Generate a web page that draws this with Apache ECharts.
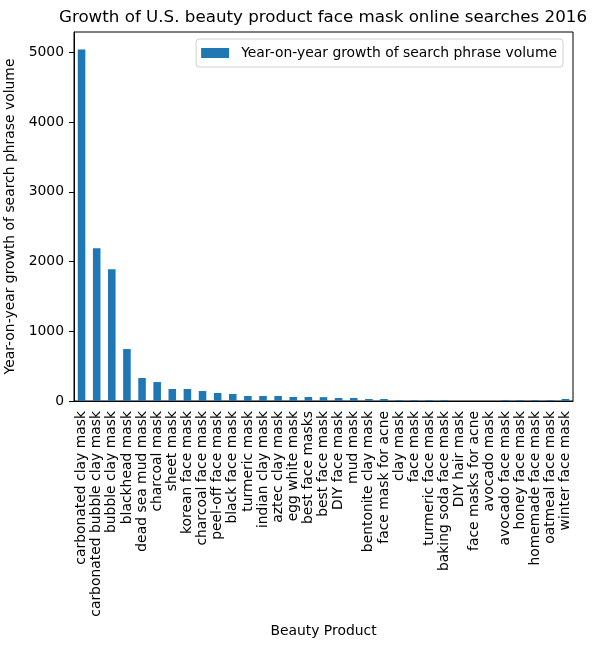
<!DOCTYPE html>
<html>
<head>
<meta charset="utf-8">
<script src="https://cdn.jsdelivr.net/npm/echarts@6/dist/echarts.min.js"></script>
<style>
  html, body { margin: 0; padding: 0; background: #fff; }
  #main { width: 595px; height: 647px; }
</style>
</head>
<body>
<div id="main"></div>
<script>
var products = [
    'carbonated clay mask', 'carbonated bubble clay mask', 'bubble clay mask',
    'blackhead mask', 'dead sea mud mask', 'charcoal mask', 'sheet mask',
    'korean face mask', 'charcoal face mask', 'peel-off face mask',
    'black face mask', 'turmeric mask', 'indian clay mask', 'aztec clay mask',
    'egg white mask', 'best face masks', 'best face mask', 'DIY face mask',
    'mud mask', 'bentonite clay mask', 'face mask for acne', 'clay mask',
    'face mask', 'turmeric face mask', 'baking soda face mask', 'DIY hair mask',
    'face masks for acne', 'avocado mask', 'avocado face mask',
    'honey face mask', 'homemade face mask', 'oatmeal face mask',
    'winter face mask'
];
var growth = [
    5040, 2190, 1890, 745, 330, 272, 172, 172, 143, 115,
    100, 72, 72, 72, 57, 57, 55, 43, 43, 29, 29, 14,
    14, 14, 14, 0, 0, 0, 14, 14, 14, 14, 29
];
var yTicks = [0, 1000, 2000, 3000, 4000, 5000];

var font = 'DejaVu Sans';
var chart = echarts.init(document.getElementById('main'));
var option = {
    backgroundColor: '#fff',
    animation: false,
    title: {
        text: 'Growth of U.S. beauty product face mask online searches 2016',
        left: 323,
        top: 9,
        padding: 0,
        textAlign: 'center',
        textStyle: { fontFamily: font, fontSize: 16.7, fontWeight: 'normal', color: '#000' }
    },
    legend: {
        right: 32,
        top: 39,
        orient: 'vertical',
        icon: 'rect',
        itemWidth: 28,
        itemHeight: 10,
        padding: [7, 6, 7, 5],
        borderColor: '#d0d0d0',
        borderWidth: 1,
        borderRadius: 3,
        textStyle: { fontFamily: font, fontSize: 13.9, color: '#000', padding: [0, 0, 0, 7] },
        data: ['Year-on-year growth of search phrase volume']
    },
    grid: {
        left: 74, right: 22, top: 32, bottom: 246,
        show: true, borderColor: '#000', borderWidth: 1,
        containLabel: false,
        outerBoundsMode: 'none'
    },
    xAxis: {
        type: 'category',
        data: products,
        boundaryGap: true,
        name: 'Beauty Product',
        nameLocation: 'middle',
        nameGap: 221,
        nameTextStyle: { fontFamily: font, fontSize: 13.9, color: '#000' },
        axisLine: { lineStyle: { color: '#000' } },
        axisTick: { alignWithLabel: true, length: 5, lineStyle: { color: '#000' } },
        axisLabel: {
            rotate: 90, interval: 0, margin: 10,
            fontFamily: font, fontSize: 13.9, color: '#000'
        },
        splitLine: { show: false }
    },
    yAxis: {
        type: 'value',
        min: 0,
        max: 5292,
        interval: 1000,
        name: 'Year-on-year growth of search phrase volume',
        nameLocation: 'middle',
        nameGap: 53,
        nameTextStyle: { fontFamily: font, fontSize: 13.9, color: '#000' },
        axisLine: { show: true, lineStyle: { color: '#000' } },
        axisTick: { show: true, length: 5, lineStyle: { color: '#000' } },
        axisLabel: {
            margin: 10, fontFamily: font, fontSize: 13.9, color: '#000',
            showMaxLabel: false,
            formatter: function (v) { return yTicks.indexOf(v) >= 0 ? String(v) : ''; }
        },
        splitLine: { show: false }
    },
    series: [{
        name: 'Year-on-year growth of search phrase volume',
        type: 'bar',
        barWidth: '50%',
        itemStyle: { color: '#1f77b4' },
        data: growth
    }]
};
chart.setOption(option);
</script>
</body>
</html>
